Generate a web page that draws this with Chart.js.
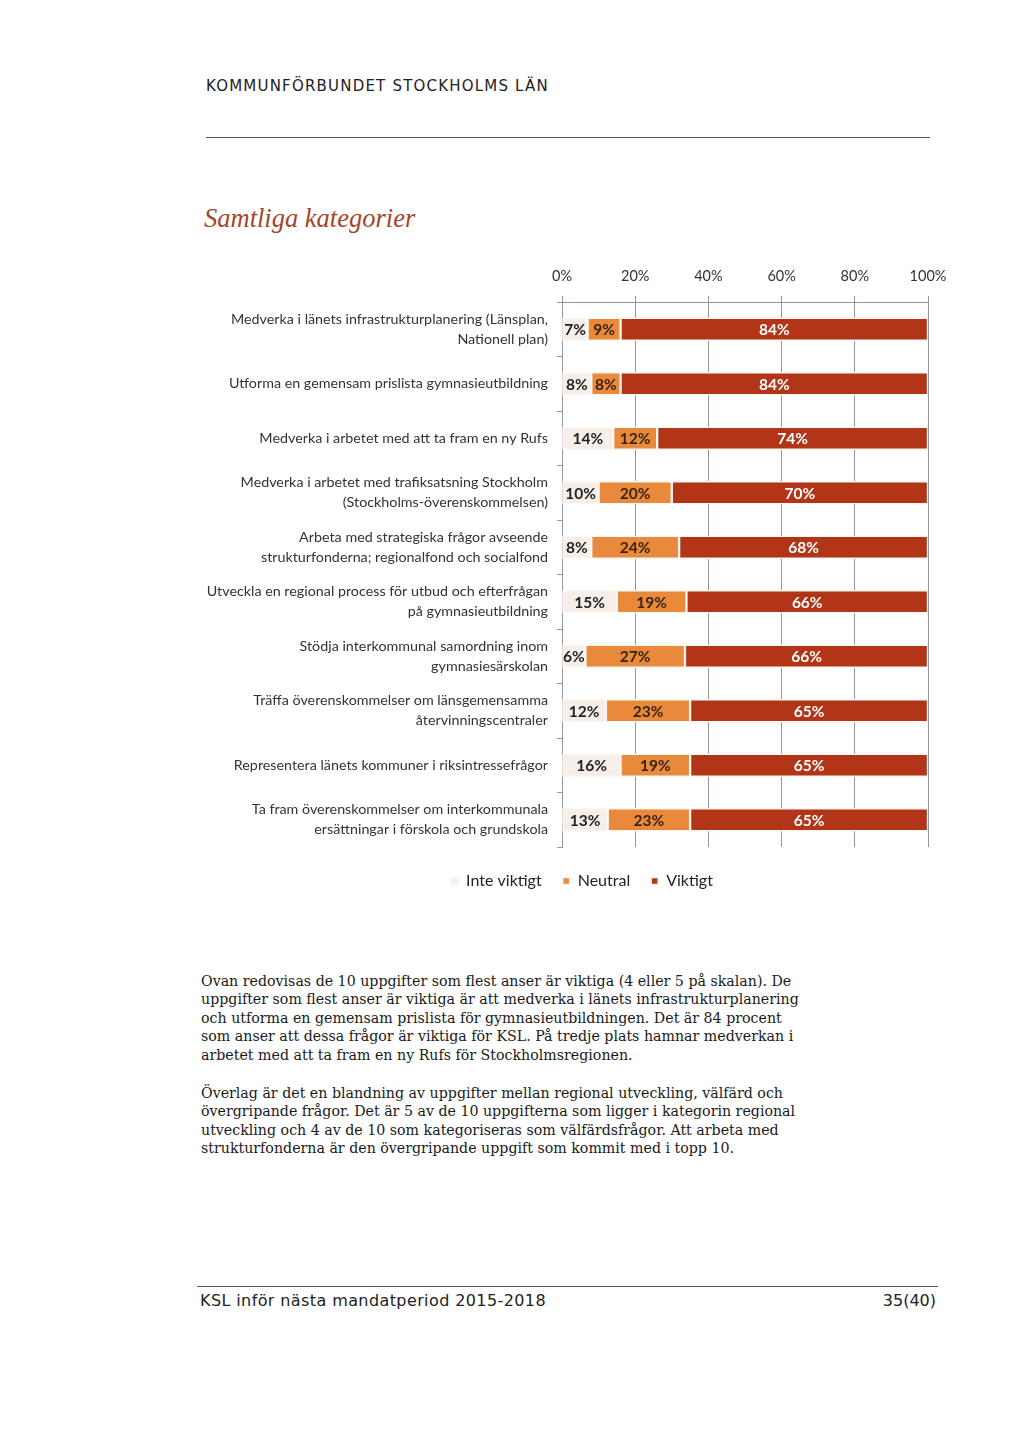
<!DOCTYPE html>
<html>
<head>
<meta charset="utf-8">
<script src="https://cdn.jsdelivr.net/npm/chart.js@4.4.0/dist/chart.umd.min.js"></script>
<style>
  body { margin: 0; background: #fff; width: 1024px; height: 1447px; position: relative; overflow: hidden; }
  .abs { position: absolute; white-space: nowrap; }
  #header { left: 206px; top: 77px; font: 15px "DejaVu Sans", sans-serif; letter-spacing: 1.2px; color: #222; }
  #hline { left: 206px; top: 137px; width: 724px; height: 0; border-top: 1.5px solid #555; }
  #title { left: 204px; top: 203px; font: italic 26.5px "Liberation Serif", serif; color: #a5452b; }
  #wrap { left: 190px; top: 255px; }
  .body { left: 201px; font: 14.2px "DejaVu Serif", serif; line-height: 18.4px; color: #1a1a1a; }
  #p1 { top: 972px; }
  #p2 { top: 1084px; }
  #fline { left: 197px; top: 1286px; width: 741px; height: 0; border-top: 1.5px solid #555; }
  #footer { left: 200px; top: 1291px; font: 16px "DejaVu Sans", sans-serif; letter-spacing: 0.4px; color: #222; }
  #page { right: 88px; top: 1291px; font: 16px "DejaVu Sans", sans-serif; color: #222; }
</style>
</head>
<body>
<div id="header" class="abs">KOMMUNFÖRBUNDET STOCKHOLMS LÄN</div>
<div id="hline" class="abs"></div>
<div id="title" class="abs">Samtliga kategorier</div>
<div id="wrap" class="abs"><canvas id="myChart" width="790" height="639"></canvas></div>
<div id="p1" class="abs body">Ovan redovisas de 10 uppgifter som flest anser är viktiga (4 eller 5 på skalan). De<br>uppgifter som flest anser är viktiga är att medverka i länets infrastrukturplanering<br>och utforma en gemensam prislista för gymnasieutbildningen. Det är 84 procent<br>som anser att dessa frågor är viktiga för KSL. På tredje plats hamnar medverkan i<br>arbetet med att ta fram en ny Rufs för Stockholmsregionen.</div>
<div id="p2" class="abs body">Överlag är det en blandning av uppgifter mellan regional utveckling, välfärd och<br>övergripande frågor. Det är 5 av de 10 uppgifterna som ligger i kategorin regional<br>utveckling och 4 av de 10 som kategoriseras som välfärdsfrågor. Att arbeta med<br>strukturfonderna är den övergripande uppgift som kommit med i topp 10.</div>
<div id="fline" class="abs"></div>
<div id="footer" class="abs">KSL inför nästa mandatperiod 2015-2018</div>
<div id="page" class="abs">35(40)</div>

<script>
const categories = [
    ['Medverka i länets infrastrukturplanering (Länsplan,', 'Nationell plan)'],
    'Utforma en gemensam prislista gymnasieutbildning',
    'Medverka i arbetet med att ta fram en ny Rufs',
    ['Medverka i arbetet med trafiksatsning Stockholm', '(Stockholms-överenskommelsen)'],
    ['Arbeta med strategiska frågor avseende', 'strukturfonderna; regionalfond och socialfond'],
    ['Utveckla en regional process för utbud och efterfrågan', 'på gymnasieutbildning'],
    ['Stödja interkommunal samordning inom', 'gymnasiesärskolan'],
    ['Träffa överenskommelser om länsgemensamma', 'återvinningscentraler'],
    'Representera länets kommuner i riksintressefrågor',
    ['Ta fram överenskommelser om interkommunala', 'ersättningar i förskola och grundskola']
];

const inteViktigt = [7, 8, 14, 10, 8, 15, 6.4, 12, 16, 12.5];
const neutral = [9, 8, 12, 20, 24, 19, 27.2, 23, 19, 22.5];
const viktigt = [84, 84, 74, 70, 68, 66, 66.4, 65, 65, 65];

const xTicks = [0, 20, 40, 60, 80, 100];

const seriesNames = ['Inte viktigt', 'Neutral', 'Viktigt'];
const seriesColors = ['#f6efe9', '#e8893b', '#b13516'];
const labelColors = ['#222222', '#3a2410', '#ffffff'];

const gridColor = '#8e97a6';

// skriver procenttalen mitt i varje stapeldel
const barLabels = {
    id: 'barLabels',
    afterDatasetsDraw(chart) {
        const ctx = chart.ctx;
        ctx.save();
        ctx.font = 'bold 15.5px Lato';
        ctx.textAlign = 'center';
        ctx.textBaseline = 'middle';
        chart.data.datasets.forEach((ds, i) => {
            const meta = chart.getDatasetMeta(i);
            meta.data.forEach((bar, j) => {
                const p = bar.getProps(['x', 'base', 'y'], true);
                ctx.fillStyle = labelColors[i];
                ctx.fillText(Math.round(ds.data[j]) + '%', (p.x + p.base) / 2, p.y + 1);
            });
        });
        ctx.restore();
    }
};

// legenden ska centreras under hela figuren, inte bara under plotytan
const legendShift = {
    id: 'legendShift',
    afterLayout(chart) {
        chart.legend.left += 23;
        chart.legend.right += 23;
        chart.legend.top += 5;
        chart.legend.bottom += 5;
    }
};

let datasets = [];
const seriesData = [inteViktigt, neutral, viktigt];
for (let i = 0; i < seriesData.length; i++) {
    datasets.push({
        label: seriesNames[i],
        data: seriesData[i],
        backgroundColor: seriesColors[i],
        borderColor: '#fdf7f2',
        borderWidth: 1.5,
        borderSkipped: false,
        barThickness: 23
    });
}

const ctx = document.getElementById('myChart');

const myChart = new Chart(ctx, {
    type: 'bar',
    data: {
        labels: categories,
        datasets: datasets
    },
    plugins: [barLabels, legendShift],
    options: {
        indexAxis: 'y',
        responsive: false,
        animation: false,
        devicePixelRatio: 1,
        layout: {
            padding: { right: 52 }
        },
        scales: {
            x: {
                position: 'top',
                stacked: true,
                min: 0,
                max: 100,
                afterBuildTicks: (scale) => {
                    scale.ticks = xTicks.map(v => ({ value: v }));
                },
                afterFit: (scale) => { scale.height = 47; },
                ticks: {
                    callback: (v) => v + '%',
                    font: { family: 'Lato', size: 14.5 },
                    color: '#333',
                    padding: 11
                },
                grid: {
                    color: gridColor,
                    tickLength: 6
                },
                border: { color: gridColor }
            },
            y: {
                stacked: true,
                afterFit: (scale) => { scale.width = 372; },
                ticks: {
                    font: { family: 'Lato', size: 14.3, lineHeight: 1.4 },
                    color: '#333',
                    padding: 9
                },
                grid: {
                    drawOnChartArea: false,
                    offset: true,
                    color: gridColor,
                    tickLength: 5
                },
                border: { color: gridColor }
            }
        },
        plugins: {
            legend: {
                position: 'bottom',
                labels: {
                    usePointStyle: true,
                    pointStyle: 'rect',
                    boxWidth: 7,
                    boxHeight: 7,
                    padding: 21,
                    color: '#222',
                    font: { family: 'Lato', size: 16 }
                }
            },
            tooltip: { enabled: false }
        }
    }
});
</script>
</body>
</html>
